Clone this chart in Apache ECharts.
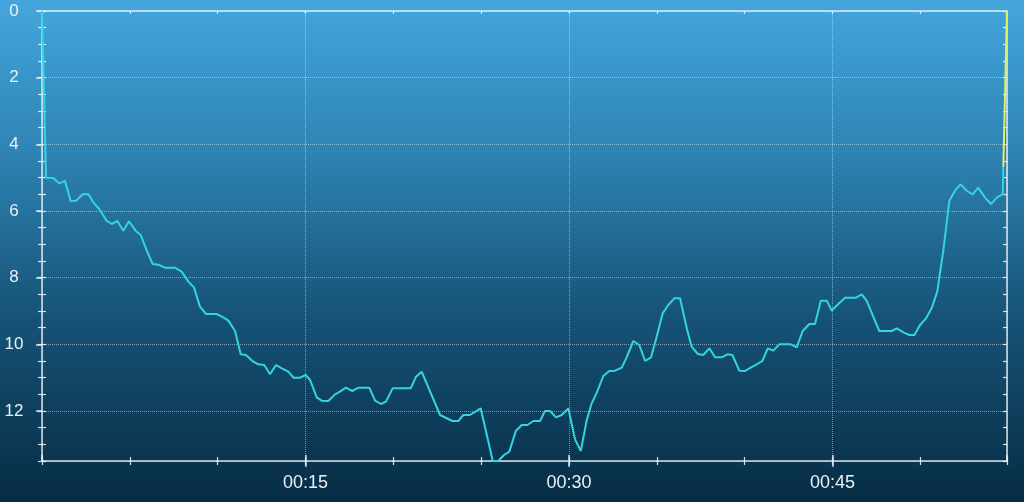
<!DOCTYPE html>
<html>
<head>
<meta charset="utf-8">
<script src="https://cdn.jsdelivr.net/npm/echarts@6/dist/echarts.min.js"></script>
<style>
html,body{margin:0;padding:0;}
#c{width:1024px;height:502px;}
</style>
</head>
<body>
<div id="c"></div>
<script>
// time in minutes
const times = [0,0.23,0.64,0.98,1.31,1.63,1.94,2.32,2.64,2.92,3.26,3.68,3.97,4.29,4.63,4.95,5.33,5.62,5.99,6.30,6.62,7.00,7.57,7.95,8.33,8.65,8.99,9.34,9.94,10.32,10.61,10.99,11.31,11.61,12.03,12.31,12.65,12.98,13.32,13.65,14.02,14.31,14.69,15.01,15.26,15.64,15.92,16.30,16.68,16.96,17.30,17.66,18.01,18.63,18.96,19.30,19.58,19.96,20.99,21.29,21.61,22.66,23.36,23.70,23.98,24.36,24.97,25.66,25.97,26.30,26.60,26.98,27.31,27.63,27.97,28.35,28.63,28.92,29.26,29.58,29.96,30.34,30.67,31.01,31.29,31.58,31.95,32.29,32.62,33.00,33.28,33.66,34.00,34.33,34.67,34.99,35.33,35.65,35.99,36.32,36.70,36.98,37.33,37.64,37.99,38.31,38.69,39.01,39.30,39.69,40.02,40.34,40.68,41.00,41.31,41.63,41.97,42.62,42.96,43.30,43.68,44.00,44.33,44.67,44.95,45.33,45.71,46.34,46.66,46.94,47.66,48.37,48.65,49.03,49.37,49.66,49.98,50.32,50.64,50.96,51.31,51.65,51.97,52.29,52.66,52.97,53.29,53.68,54.02,54.35,54.69,54.72];
const depths = [0,5.0,5.01,5.17,5.1,5.7,5.69,5.5,5.5,5.74,5.94,6.29,6.39,6.3,6.59,6.31,6.59,6.72,7.22,7.59,7.61,7.7,7.7,7.82,8.12,8.29,8.87,9.09,9.09,9.19,9.29,9.6,10.3,10.32,10.52,10.6,10.62,10.9,10.62,10.72,10.82,11.0,11.0,10.92,11.07,11.59,11.69,11.7,11.5,11.42,11.3,11.4,11.3,11.3,11.69,11.79,11.72,11.32,11.32,10.97,10.82,12.12,12.3,12.3,12.12,12.12,11.92,13.5,13.5,13.32,13.22,12.59,12.42,12.42,12.3,12.3,12.0,12.0,12.19,12.12,11.92,12.85,13.2,12.27,11.77,11.45,10.95,10.8,10.79,10.7,10.39,9.9,10.02,10.5,10.39,9.77,9.07,8.82,8.62,8.62,9.52,10.07,10.29,10.32,10.12,10.39,10.39,10.3,10.32,10.79,10.8,10.7,10.6,10.5,10.12,10.19,10.0,10.0,10.09,9.6,9.39,9.39,8.69,8.69,8.99,8.79,8.6,8.6,8.5,8.69,9.6,9.6,9.52,9.64,9.72,9.72,9.42,9.22,8.92,8.42,7.17,5.69,5.39,5.2,5.4,5.5,5.3,5.6,5.79,5.6,5.49,4.67];
// final ascent segment
const ascentTimes = [54.72, 54.93];
const ascentDepths = [4.67, 0];
const xMax = 54.93, yMax = 13.5;

const profile = times.map((t,i)=>[t,depths[i]]);
const ascent = ascentTimes.map((t,i)=>[t,ascentDepths[i]]);

const lineCol = 'rgba(235,242,246,0.9)';
const txtCol = '#eaf2f6';
const pad = n => String(n).padStart(2,'0');

const G = {left:42, right:17, top:11, bottom:41};
const grids = [0,1,2,3,4].map(()=>Object.assign({}, G));

function xa(gi, opts){
  return Object.assign({
    type:'value', gridIndex:gi, min:0, max:xMax, position:'bottom',
    axisLine:{show:false, onZero:false},
    axisTick:{show:false}, axisLabel:{show:false}, splitLine:{show:false}
  }, opts);
}
function ya(gi, opts){
  return Object.assign({
    type:'value', gridIndex:gi, min:0, max:yMax, inverse:true, position:'left',
    axisLine:{show:false, onZero:false},
    axisTick:{show:false}, axisLabel:{show:false}, splitLine:{show:false}
  }, opts);
}

const option = {
  animation:false,
  backgroundColor:{type:'linear',x:0,y:0,x2:0,y2:1,colorStops:[
    {offset:0,color:'#44a6dd'},{offset:0.3,color:'#2e84b4'},
    {offset:0.62,color:'#175478'},{offset:1,color:'#062c44'}]},
  grid: grids,
  xAxis:[
    xa(0,{interval:15,
      axisLine:{show:true,onZero:false,lineStyle:{color:lineCol,width:1.5}},
      axisTick:{show:true,length:6,lineStyle:{color:lineCol,width:1.5}},
      splitLine:{show:true,lineStyle:{color:'rgba(255,255,255,0.45)',type:'dotted',width:1}},
      axisLabel:{show:true,margin:13,color:txtCol,fontSize:18,fontFamily:'Liberation Sans, Arial, sans-serif',
        showMinLabel:false,showMaxLabel:false,
        formatter:v=>{ if(v<=0||Math.abs(v%15)>1e-6) return ''; return pad(Math.floor(v/60))+':'+pad(Math.round(v%60)); }}
    }),
    xa(1,{interval:15, axisTick:{show:true,inside:true,length:6,lineStyle:{color:lineCol,width:1.5}}}),
    xa(2,{interval:5, axisTick:{show:true,length:4,lineStyle:{color:lineCol,width:1.2}}}),
    xa(3,{interval:5, axisTick:{show:true,inside:true,length:4,lineStyle:{color:lineCol,width:1.2}}}),
    xa(4,{interval:5, position:'top',
      axisLine:{show:true,onZero:false,lineStyle:{color:lineCol,width:1.5}},
      axisTick:{show:true,inside:true,length:3,lineStyle:{color:lineCol,width:1.2}}})
  ],
  yAxis:[
    ya(0,{interval:2,
      axisLine:{show:true,onZero:false,lineStyle:{color:lineCol,width:1.5}},
      axisTick:{show:true,length:6,lineStyle:{color:lineCol,width:1.5}},
      splitLine:{show:true,lineStyle:{color:'rgba(255,255,255,0.45)',type:'dotted',width:1}},
      axisLabel:{show:true,margin:28,align:'center',color:txtCol,fontSize:17,fontFamily:'Liberation Sans, Arial, sans-serif',
        showMinLabel:true,showMaxLabel:false,
        formatter:v=> (Math.abs(v%2)>1e-6 ? '' : String(v))}
    }),
    ya(1,{interval:0.5, axisTick:{show:true,length:4,lineStyle:{color:lineCol,width:1.2}}}),
    ya(2,{interval:0.5, axisTick:{show:true,inside:true,length:4,lineStyle:{color:lineCol,width:1.2}}}),
    ya(3,{interval:0.5, position:'right',
      axisLine:{show:true,onZero:false,lineStyle:{color:lineCol,width:1.5}},
      axisTick:{show:true,inside:true,length:4,lineStyle:{color:lineCol,width:1.2}}}),
    ya(4,{})
  ],
  series:[
    {type:'line', xAxisIndex:0, yAxisIndex:0, data:profile, showSymbol:false, symbol:'none',
      lineStyle:{color:'#34d4e0', width:2}, z:5},
    {type:'line', xAxisIndex:0, yAxisIndex:0, data:ascent, showSymbol:false, symbol:'none',
      lineStyle:{color:'#e2ee5c', width:2}, z:5}
  ]
};
const chart = echarts.init(document.getElementById('c'), null, {renderer:'canvas'});
chart.setOption(option);
</script>
</body>
</html>
